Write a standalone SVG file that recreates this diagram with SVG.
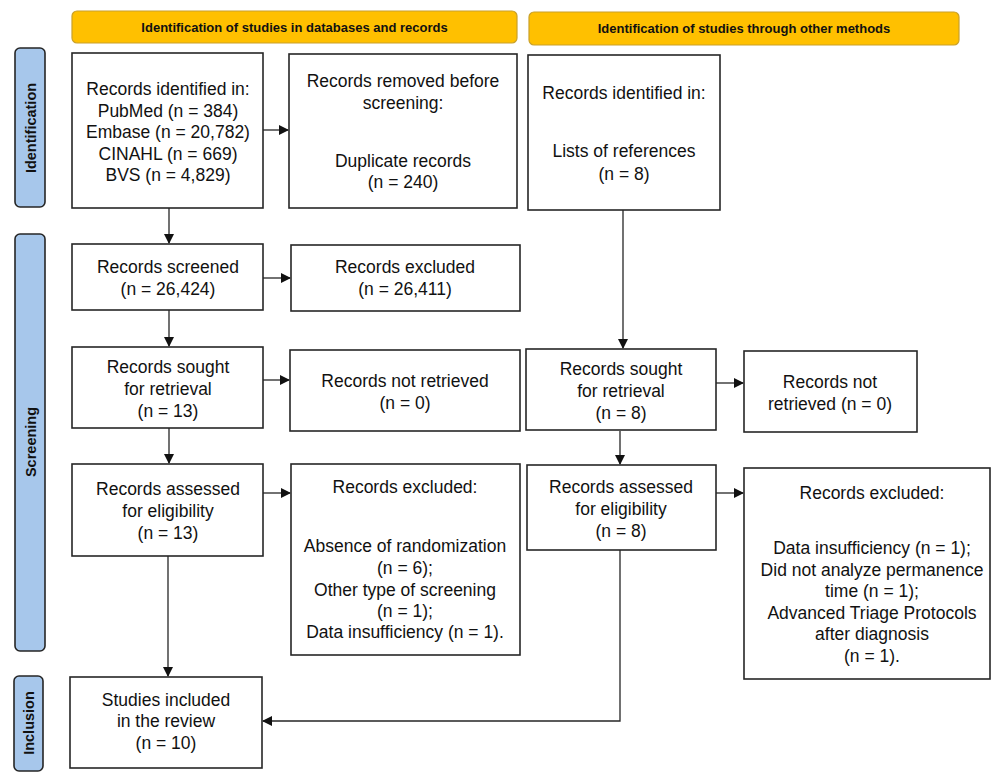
<svg xmlns="http://www.w3.org/2000/svg" width="1000" height="780" viewBox="0 0 1000 780">
<defs>
<style>
.box{fill:#fff;stroke:#262626;stroke-width:1.6}
.ban{fill:#FFC000;stroke:#C9A02A;stroke-width:1.2}
.side{fill:#A7C7EB;stroke:#262626;stroke-width:1.6}
.t{font-family:"Liberation Sans",Arial,sans-serif;font-size:17.5px;fill:#111;text-anchor:middle}
.hb{font-family:"Liberation Sans",Arial,sans-serif;font-size:13px;font-weight:bold;fill:#111;text-anchor:middle}
.sb{font-family:"Liberation Sans",Arial,sans-serif;font-size:14.5px;font-weight:bold;fill:#111;text-anchor:middle}
.c{fill:none;stroke:#262626;stroke-width:1.3}
</style>
<marker id="ah" markerWidth="10" markerHeight="10" refX="9" refY="5" orient="auto" markerUnits="userSpaceOnUse">
<path d="M0,0 L10,5 L0,10 z" fill="#111"/>
</marker>
</defs>
<rect width="1000" height="780" fill="#fff"/>

<g id="banner-left"><rect class="ban" x="72" y="11" width="445" height="32" rx="5"/><text class="hb" x="294.5" y="32">Identification of studies in databases and records</text></g>
<g id="banner-right"><rect class="ban" x="529" y="12" width="430" height="33" rx="5"/><text class="hb" x="744" y="33">Identification of studies through other methods</text></g>

<g id="side-identification"><rect class="side" x="15" y="48" width="30" height="159" rx="5"/><text class="sb" transform="translate(35.5,128) rotate(-90)">Identification</text></g>
<g id="side-screening"><rect class="side" x="15" y="234" width="30" height="417" rx="5"/><text class="sb" transform="translate(35.5,442) rotate(-90)">Screening</text></g>
<g id="side-inclusion"><rect class="side" x="14" y="676" width="29" height="95" rx="5"/><text class="sb" transform="translate(34,723) rotate(-90)">Inclusion</text></g>

<g id="connectors">
<line class="c" x1="263" y1="130" x2="288" y2="130" marker-end="url(#ah)"/>
<line class="c" x1="169" y1="208" x2="169" y2="243" marker-end="url(#ah)"/>
<line class="c" x1="263" y1="278" x2="290" y2="278" marker-end="url(#ah)"/>
<line class="c" x1="169" y1="310" x2="169" y2="346" marker-end="url(#ah)"/>
<line class="c" x1="263" y1="380" x2="289" y2="380" marker-end="url(#ah)"/>
<line class="c" x1="169" y1="428" x2="169" y2="463" marker-end="url(#ah)"/>
<line class="c" x1="263" y1="493" x2="290" y2="493" marker-end="url(#ah)"/>
<line class="c" x1="168" y1="556" x2="168" y2="676" marker-end="url(#ah)"/>
<line class="c" x1="623" y1="210" x2="623" y2="348" marker-end="url(#ah)"/>
<line class="c" x1="716" y1="383" x2="743" y2="383" marker-end="url(#ah)"/>
<line class="c" x1="620" y1="431" x2="620" y2="464" marker-end="url(#ah)"/>
<line class="c" x1="716" y1="493" x2="743" y2="493" marker-end="url(#ah)"/>
<polyline class="c" points="620,550 620,721 263,721" marker-end="url(#ah)"/>
</g>

<g id="n-identified">
<rect class="box" x="72" y="53" width="191" height="155"/>
<text class="t" x="168" y="95">Records identified in:</text>
<text class="t" x="168" y="116.5">PubMed (n = 384)</text>
<text class="t" x="168" y="138">Embase (n = 20,782)</text>
<text class="t" x="168" y="159.5">CINAHL (n = 669)</text>
<text class="t" x="168" y="181">BVS (n = 4,829)</text>
</g>
<g id="n-removed">
<rect class="box" x="289" y="54" width="228" height="154"/>
<text class="t" x="403" y="87">Records removed before</text>
<text class="t" x="403" y="108.5">screening:</text>
<text class="t" x="403" y="166.5">Duplicate records</text>
<text class="t" x="403" y="188">(n = 240)</text>
</g>
<g id="n-other-identified">
<rect class="box" x="528" y="55" width="192" height="155"/>
<text class="t" x="624" y="99">Records identified in:</text>
<text class="t" x="624" y="157">Lists of references</text>
<text class="t" x="624" y="180">(n = 8)</text>
</g>

<g id="n-screened">
<rect class="box" x="72" y="244" width="191" height="66"/>
<text class="t" x="168" y="273">Records screened</text>
<text class="t" x="168" y="295">(n = 26,424)</text>
</g>
<g id="n-excluded1">
<rect class="box" x="291" y="245" width="229" height="66"/>
<text class="t" x="405" y="273">Records excluded</text>
<text class="t" x="405" y="295">(n = 26,411)</text>
</g>

<g id="n-sought-left">
<rect class="box" x="72" y="347" width="191" height="81"/>
<text class="t" x="168" y="373">Records sought</text>
<text class="t" x="168" y="395">for retrieval</text>
<text class="t" x="168" y="417">(n = 13)</text>
</g>
<g id="n-notretrieved-left">
<rect class="box" x="290" y="350" width="230" height="81"/>
<text class="t" x="405" y="387">Records not retrieved</text>
<text class="t" x="405" y="409">(n = 0)</text>
</g>
<g id="n-sought-right">
<rect class="box" x="526" y="349" width="190" height="81"/>
<text class="t" x="621" y="375">Records sought</text>
<text class="t" x="621" y="397">for retrieval</text>
<text class="t" x="621" y="419">(n = 8)</text>
</g>
<g id="n-notretrieved-right">
<rect class="box" x="744" y="351" width="173" height="81"/>
<text class="t" x="830" y="388">Records not</text>
<text class="t" x="830" y="410">retrieved (n = 0)</text>
</g>

<g id="n-assessed-left">
<rect class="box" x="72" y="464" width="191" height="92"/>
<text class="t" x="168" y="495">Records assessed</text>
<text class="t" x="168" y="517">for eligibility</text>
<text class="t" x="168" y="539">(n = 13)</text>
</g>
<g id="n-excluded-left">
<rect class="box" x="291" y="464" width="229" height="191"/>
<text class="t" x="405" y="493">Records excluded:</text>
<text class="t" x="405" y="552">Absence of randomization</text>
<text class="t" x="405" y="574">(n = 6);</text>
<text class="t" x="405" y="596">Other type of screening</text>
<text class="t" x="405" y="617">(n = 1);</text>
<text class="t" x="405" y="638">Data insufficiency (n = 1).</text>
</g>
<g id="n-assessed-right">
<rect class="box" x="527" y="465" width="189" height="85"/>
<text class="t" x="621" y="493">Records assessed</text>
<text class="t" x="621" y="515">for eligibility</text>
<text class="t" x="621" y="537">(n = 8)</text>
</g>
<g id="n-excluded-right">
<rect class="box" x="744" y="468" width="246" height="211"/>
<text class="t" x="872" y="499">Records excluded:</text>
<text class="t" x="872" y="554">Data insufficiency (n = 1);</text>
<text class="t" x="872" y="576">Did not analyze permanence</text>
<text class="t" x="872" y="597">time (n = 1);</text>
<text class="t" x="872" y="619">Advanced Triage Protocols</text>
<text class="t" x="872" y="640">after diagnosis</text>
<text class="t" x="872" y="662">(n = 1).</text>
</g>

<g id="n-included">
<rect class="box" x="70" y="677" width="192" height="91"/>
<text class="t" x="166" y="706">Studies included</text>
<text class="t" x="166" y="727">in the review</text>
<text class="t" x="166" y="749">(n = 10)</text>
</g>
</svg>
